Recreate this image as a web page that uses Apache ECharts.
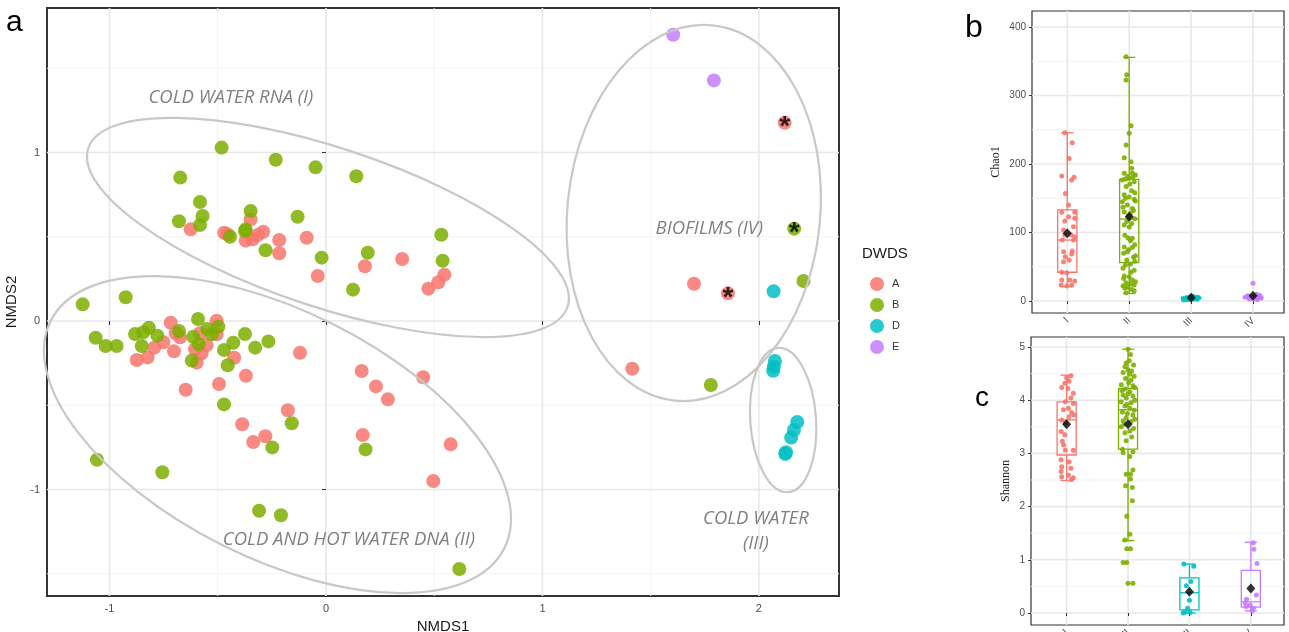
<!DOCTYPE html>
<html><head><meta charset="utf-8">
<script src="https://cdn.jsdelivr.net/npm/echarts@6/dist/echarts.min.js"></script>
<style>html,body{margin:0;padding:0;background:#fff}#c{width:1289px;height:632px}</style>
</head><body><div id="c"></div>
<script>
// ---------- Panel a : NMDS ordination ----------
const dwdsNames = ['A', 'B', 'D', 'E'];
const nmdsA = [[-0.348,0.603],[-0.625,0.544],[-0.470,0.524],[-0.455,0.515],[-0.371,0.477],[-0.339,0.485],[-0.315,0.510],[-0.290,0.530],[-0.216,0.481],[-0.216,0.402],[-0.089,0.494],[0.352,0.368],[0.180,0.325],[-0.038,0.267],[0.473,0.192],[0.547,0.275],[0.519,0.230],
  [2.119,1.177],[1.700,0.221],[1.857,0.164],[1.415,-0.283],
  [-0.717,-0.010],[-0.505,0.002],[-0.694,-0.073],[-0.674,-0.097],[-0.582,-0.073],[-0.505,-0.079],[-0.751,-0.126],[-0.793,-0.158],[-0.702,-0.180],[-0.605,-0.168],[-0.551,-0.142],[-0.574,-0.192],[-0.597,-0.247],[-0.874,-0.231],[-0.824,-0.216],[-0.424,-0.218],[-0.120,-0.188],[-0.370,-0.325],[-0.494,-0.374],[-0.648,-0.408],[0.165,-0.297],[0.231,-0.388],[0.286,-0.465],[0.449,-0.334],[-0.176,-0.530],[-0.387,-0.613],[-0.280,-0.684],[-0.336,-0.718],[0.170,-0.677],[0.576,-0.732],[0.496,-0.950]];
const nmdsB = [[-0.482,1.029],[-0.232,0.957],[-0.048,0.912],[0.140,0.859],[-0.673,0.851],[-0.582,0.706],[-0.570,0.623],[-0.679,0.592],[-0.582,0.570],[-0.348,0.653],[-0.131,0.619],[-0.371,0.544],[-0.374,0.534],[-0.443,0.500],[-0.279,0.420],[-0.020,0.376],[0.193,0.405],[0.125,0.186],[-1.124,0.099],[-0.925,0.141],
  [0.533,0.512],[0.539,0.358],[2.163,0.548],[2.206,0.237],[1.778,-0.380],
  [-1.064,-0.099],[-1.018,-0.148],[-0.967,-0.148],[-0.882,-0.077],[-0.851,-0.148],[-0.844,-0.067],[-0.818,-0.040],[-0.779,-0.087],[-0.679,-0.059],[-0.591,0.012],[-0.613,-0.093],[-0.588,-0.138],[-0.548,-0.047],[-0.528,-0.079],[-0.497,-0.034],[-0.620,-0.235],[-0.471,-0.172],[-0.428,-0.129],[-0.454,-0.263],[-0.374,-0.077],[-0.327,-0.158],[-0.266,-0.121],[-0.471,-0.495],[-0.158,-0.607],[-0.248,-0.750],[0.183,-0.762],[-1.058,-0.823],[-0.756,-0.898],[-0.309,-1.126],[-0.208,-1.153],[0.616,-1.472]];
const nmdsD = [[2.068,0.176],[2.074,-0.237],[2.069,-0.271],[2.066,-0.295],[2.177,-0.599],[2.162,-0.647],[2.149,-0.692],[2.125,-0.779],[2.122,-0.790]];
const nmdsE = [[1.604,1.699],[1.792,1.428]];
const starredPts = [[2.119,1.177],[2.163,0.548],[1.857,0.164]];
const nmdsXTicks = [-1, 0, 1, 2];
const nmdsYTicks = [-1, 0, 1];
const nmdsXMinor = [-0.5, 0.5, 1.5];
const nmdsYMinor = [-1.5, -0.5, 0.5, 1.5];
// ellipses: centre x, centre y, semi-axis 1, semi-axis 2 (in x-axis units), rotation (deg)
const ellipses = [[0.009,0.555,1.166,0.368,-18.3],[-0.224,-0.674,1.172,0.571,-26.6],[1.699,0.641,0.584,0.871,-5.7],[2.112,-0.588,0.152,0.334,3.9]];
const ellipseLabels = ['COLD WATER RNA (I)', 'COLD AND HOT WATER DNA (II)', 'BIOFILMS (IV)', 'COLD WATER\n(III)'];
const ellipseLabelAt = [[-0.439,1.323],[0.106,-1.300],[1.771,0.548],[1.986,-1.246]];

// ---------- Panels b / c : alpha diversity ----------
const groupNames = ['I', 'II', 'III', 'IV'];
// [jitter, value]
const chaoI = [[-0.04,245.7],[0.08,231],[0.03,208],[-0.09,182.5],[0.11,180.6],[0.07,176.6],[-0.03,157],[0.02,140],[-0.09,129.5],[0.12,129.5],[0.02,123],[0.12,120.7],[-0.04,116.8],[0.10,108.5],[-0.06,103.6],[-0.04,96.4],[0.06,96.4],[0.12,93.9],[-0.08,89],[0.10,89],[-0.06,72],[0.08,73],[-0.03,64.7],[0.03,59.9],[-0.06,57.4],[-0.09,41.9],[-0.01,41.3],[-0.09,30.7],[0.04,30.7],[0.12,29.2],[-0.10,23.4],[-0.01,21.9],[0.07,23.4],[0.07,68.6]];
const chaoII = [[-0.05,356.7],[-0.04,330.4],[-0.05,322.6],[0.03,256],[0.0,244.8],[-0.05,227.7],[-0.08,209.2],[0.03,203.4],[0.04,193.7],[-0.08,186.4],[0.05,187],[0.0,179],[-0.11,176.6],[0.08,174],[-0.05,167],[0.04,161],[-0.08,155],[0.0,152],[0.08,148.5],[-0.11,145],[-0.03,140],[0.05,135],[-0.08,130],[0.02,128],[-0.04,116],[0.04,113],[-0.08,111],[0.05,91.5],[0.02,88],[-0.08,79],[0.05,78],[-0.03,72],[-0.09,69.6],[0.07,63.8],[-0.04,59.9],[0.02,54],[-0.06,52.6],[0.08,45],[-0.08,36.5],[0.0,35.5],[0.05,30.7],[-0.05,26.7],[0.08,23.4],[-0.03,20],[0.03,17],[-0.05,12],
  [0.10,184],[-0.02,182],[0.06,181],[-0.06,178],[0.01,171],[0.09,158],[-0.06,150],[0.10,146],[-0.10,137],[0.07,132],[-0.01,125],[0.09,120],[0.0,108],[-0.07,96],[-0.02,92],[0.09,82],[-0.01,75],[0.10,66],[0.09,58],[-0.10,48],[0.03,42],[-0.09,33],[0.10,28],[-0.10,22],[0.02,25],[0.08,15],[-0.07,19]];
const chaoIII = [[-0.06,2],[0.05,3],[-0.10,4],[0.08,5],[0.0,3.5],[-0.03,6],[0.10,2.5],[-0.07,4.5],[0.03,7],[0.11,5.5],[-0.12,1.5]];
const chaoIV = [[0.0,25.8],[0.06,10],[0.11,8],[-0.08,5],[0.03,4],[-0.05,3],[0.10,6],[0.07,2],[-0.10,7],[0.13,4.5],[-0.03,3.5]];
const chaoBoxes = [[21,42,89,133,245.7],[11,56,119.7,177.6,355.7],[1.5,3,4,5.5,7],[2,3.5,5,7,10]];
const chaoMeans = [98.8, 123, 4.8, 7.7];
const chaoTicks = [0, 100, 200, 300, 400];
const chaoMinor = [50, 150, 250, 350];

const shanI = [[0.07,4.46],[0,4.42],[0.04,4.36],[-0.03,4.32],[-0.08,4.24],[0.02,4.22],[0.11,4.13],[0.07,4.04],[-0.02,3.97],[0.11,3.94],[0.03,3.85],[-0.05,3.82],[0.08,3.77],[0.12,3.72],[0.04,3.69],[-0.08,3.63],[-0.02,3.58],[-0.09,3.41],[-0.03,3.35],[-0.07,3.23],[-0.05,3.16],[-0.02,3.06],[0.11,3.06],[-0.09,2.88],[0.04,2.84],[-0.08,2.75],[0.07,2.72],[-0.09,2.66],[0.03,2.59],[-0.08,2.56],[0.11,2.54],[0.08,2.51]];
const shanII = [[0,4.96],[0.04,4.86],[-0.03,4.70],[-0.05,4.63],[0,4.57],[-0.08,4.52],[0.03,4.49],[-0.04,4.41],[0.05,4.38],[-0.11,4.29],[0.08,4.27],[-0.05,4.21],[0.03,4.16],[-0.08,4.10],[0.08,4.08],[-0.03,4.04],[-0.11,3.97],[0.05,3.95],[-0.05,3.89],[0.03,3.85],[-0.09,3.78],[0.08,3.72],[-0.03,3.67],[-0.08,3.61],[0.05,3.60],[-0.11,3.50],[0.03,3.42],[-0.05,3.39],[-0.03,3.24],[-0.09,3.08],[0.08,3.03],[-0.08,3.01],[0.03,2.94],[-0.03,2.61],[0.04,2.61],[0.08,2.69],[0.04,2.52],[-0.04,2.39],[0.07,2.36],[0.07,2.11],[-0.02,1.82],[0.03,1.48],[-0.05,1.37],[-0.02,1.21],[0.04,1.21],[-0.08,0.95],[-0.02,0.95],[0,0.56],[0.08,0.56],
  [0.10,4.45],[0.01,4.33],[-0.10,4.18],[0.11,4.0],[-0.02,3.92],[0.10,3.81],[-0.01,3.75],[0.11,3.64],[-0.06,3.55],[0.09,3.47],[0.06,3.31],[0.0,4.12],[0.11,4.24],[0.06,4.55],[0.09,4.66],[0.02,4.74]];
const shanIII = [[-0.09,0.92],[0.07,0.88],[0.02,0.59],[-0.05,0.51],[0,0.24],[-0.03,0.09],[-0.07,0.02],[0.01,0.01],[-0.10,0.0]];
const shanIV = [[0.04,1.32],[0.05,1.20],[0.10,0.93],[0.09,0.34],[-0.07,0.26],[-0.09,0.19],[-0.01,0.15],[-0.08,0.12],[0.04,0.09],[0.02,0.04]];
const shanBoxes = [[2.49,2.97,3.63,3.97,4.47],[1.36,3.08,3.82,4.22,4.96],[0,0.06,0.38,0.66,0.92],[0.04,0.11,0.21,0.80,1.33]];
const shanMeans = [3.55, 3.55, 0.40, 0.46];
const shanTicks = [0, 1, 2, 3, 4, 5];
const shanMinor = [0.5, 1.5, 2.5, 3.5, 4.5];
const catTicks = [1, 2, 3, 4];

// ---------- styles ----------
const palette = ['#F8766D', '#7CAE00', '#00BFC4', '#C77CFF'];
const SANS = '"Liberation Sans", Arial, sans-serif';
const SERIF = '"Liberation Serif", "DejaVu Serif", serif';

function gridData(vMajor, vMinor, hMajor, hMinor) {
  const d = [];
  vMinor.forEach(v => d.push([v, 0, 1]));
  hMinor.forEach(v => d.push([v, 1, 1]));
  vMajor.forEach(v => d.push([v, 0, 0]));
  hMajor.forEach(v => d.push([v, 1, 0]));
  return d;
}
function renderGrid(params, api) {
  const cs = params.coordSys;
  const v = api.value(0), o = api.value(1), m = api.value(2);
  const style = { stroke: m ? '#f3f3f3' : '#e8e8e8', lineWidth: m ? 1 : 1.6, fill: null };
  if (o === 0) {
    const p = api.coord([v, 0])[0];
    return { type: 'line', shape: { x1: p, y1: cs.y, x2: p, y2: cs.y + cs.height }, style };
  }
  const p = api.coord([0, v])[1];
  return { type: 'line', shape: { x1: cs.x, y1: p, x2: cs.x + cs.width, y2: p }, style };
}
function renderBox(params, api) {
  const x = api.value(0);
  const lo = api.coord([x, api.value(1)]), q1 = api.coord([x, api.value(2)]), md = api.coord([x, api.value(3)]),
        q3 = api.coord([x, api.value(4)]), hi = api.coord([x, api.value(5)]);
  const unit = api.size([1, 0])[0];
  const hw = unit * 0.155, cw = unit * 0.1;
  const st = { stroke: palette[params.dataIndex], fill: null, lineWidth: 1.3 };
  const cx = md[0];
  return { type: 'group', children: [
    { type: 'line', shape: { x1: cx, y1: q1[1], x2: cx, y2: lo[1] }, style: st },
    { type: 'line', shape: { x1: cx, y1: q3[1], x2: cx, y2: hi[1] }, style: st },
    { type: 'line', shape: { x1: cx - cw, y1: lo[1], x2: cx + cw, y2: lo[1] }, style: st },
    { type: 'line', shape: { x1: cx - cw, y1: hi[1], x2: cx + cw, y2: hi[1] }, style: st },
    { type: 'rect', shape: { x: cx - hw, y: q3[1], width: 2 * hw, height: q1[1] - q3[1] }, style: st },
    { type: 'line', shape: { x1: cx - hw, y1: md[1], x2: cx + hw, y2: md[1] }, style: st }
  ]};
}
function renderEllipse(params, api) {
  const c = api.coord([api.value(0), api.value(1)]);
  const s = api.size([1, 0])[0];
  return { type: 'ellipse', x: c[0], y: c[1], rotation: api.value(4) * Math.PI / 180,
    shape: { cx: 0, cy: 0, rx: api.value(2) * s, ry: api.value(3) * s },
    style: { stroke: '#c8c8c8', lineWidth: 2.2, fill: null } };
}
function renderEllipseLabel(params, api) {
  const c = api.coord([api.value(0), api.value(1)]);
  return { type: 'text', x: c[0], y: c[1], style: { text: ellipseLabels[params.dataIndex], fill: '#808080',
    font: 'italic 18.5px "Open Sans", sans-serif', align: 'center', verticalAlign: 'middle', lineHeight: 25 } };
}

const jit = (arr, g) => arr.map(p => [g + p[0], p[1]]);

const series = [];
// panel a
series.push({ type: 'custom', name: 'gridA', xAxisIndex: 0, yAxisIndex: 0, z: 0, silent: true,
  renderItem: renderGrid, data: gridData(nmdsXTicks, nmdsXMinor, nmdsYTicks, nmdsYMinor) });
[nmdsA, nmdsB, nmdsD, nmdsE].forEach((d, i) => series.push({
  type: 'scatter', name: dwdsNames[i], xAxisIndex: 0, yAxisIndex: 0, z: 3, symbol: 'circle', symbolSize: 14,
  itemStyle: { color: palette[i], opacity: 0.85 }, data: d }));
series.push({ type: 'custom', name: 'ell', xAxisIndex: 0, yAxisIndex: 0, z: 4, silent: true, renderItem: renderEllipse, data: ellipses });
series.push({ type: 'custom', name: 'ellLab', xAxisIndex: 0, yAxisIndex: 0, z: 5, silent: true, renderItem: renderEllipseLabel, data: ellipseLabelAt });
series.push({ type: 'scatter', name: 'stars', xAxisIndex: 0, yAxisIndex: 0, z: 6, symbolSize: 1, silent: true,
  itemStyle: { color: 'rgba(0,0,0,0)' },
  label: { show: true, position: 'inside', formatter: '*', fontSize: 28, fontWeight: 'bold', color: '#000', fontFamily: SANS, offset: [0, 5] },
  data: starredPts });
// panel b
series.push({ type: 'custom', name: 'gridB', xAxisIndex: 1, yAxisIndex: 1, z: 0, silent: true,
  renderItem: renderGrid, data: gridData(catTicks, [], chaoTicks, chaoMinor) });
series.push({ type: 'custom', name: 'boxB', xAxisIndex: 1, yAxisIndex: 1, z: 2, silent: true, renderItem: renderBox,
  data: chaoBoxes.map((b, i) => [i + 1].concat(b)) });
[chaoI, chaoII, chaoIII, chaoIV].forEach((d, i) => series.push({
  type: 'scatter', name: 'chao-' + groupNames[i], xAxisIndex: 1, yAxisIndex: 1, z: 3, symbolSize: 5,
  itemStyle: { color: palette[i], opacity: 0.9 }, data: jit(d, i + 1) }));
series.push({ type: 'scatter', name: 'chaoMean', xAxisIndex: 1, yAxisIndex: 1, z: 4, symbol: 'diamond', symbolSize: [9, 10],
  itemStyle: { color: '#000' }, data: chaoMeans.map((m, i) => [i + 1, m]) });
// panel c
series.push({ type: 'custom', name: 'gridC', xAxisIndex: 2, yAxisIndex: 2, z: 0, silent: true,
  renderItem: renderGrid, data: gridData(catTicks, [], shanTicks, shanMinor) });
series.push({ type: 'custom', name: 'boxC', xAxisIndex: 2, yAxisIndex: 2, z: 2, silent: true, renderItem: renderBox,
  data: shanBoxes.map((b, i) => [i + 1].concat(b)) });
[shanI, shanII, shanIII, shanIV].forEach((d, i) => series.push({
  type: 'scatter', name: 'shan-' + groupNames[i], xAxisIndex: 2, yAxisIndex: 2, z: 3, symbolSize: 5,
  itemStyle: { color: palette[i], opacity: 0.9 }, data: jit(d, i + 1) }));
series.push({ type: 'scatter', name: 'shanMean', xAxisIndex: 2, yAxisIndex: 2, z: 4, symbol: 'diamond', symbolSize: [9, 10],
  itemStyle: { color: '#000' }, data: shanMeans.map((m, i) => [i + 1, m]) });

function valAxis(gi, min, max, ticks, extra) {
  return Object.assign({
    gridIndex: gi, type: 'value', min, max, axisLine: { show: false }, splitLine: { show: false },
    axisTick: { show: true, customValues: ticks, length: 4, lineStyle: { color: '#333', width: 1 } },
    axisLabel: { customValues: ticks, color: '#4d4d4d', fontSize: 11, fontFamily: SANS, margin: 7 }
  }, extra || {});
}

const option = {
  animation: false,
  backgroundColor: '#fff',
  grid: [
    { left: 47, top: 8, width: 792, height: 588, show: true, borderColor: '#333', borderWidth: 2, outerBoundsMode: 'none', containLabel: false },
    { left: 1032, top: 11, width: 252, height: 302, show: true, borderColor: '#333', borderWidth: 1.2, outerBoundsMode: 'none', containLabel: false },
    { left: 1031, top: 337, width: 253, height: 288, show: true, borderColor: '#333', borderWidth: 1.2, outerBoundsMode: 'none', containLabel: false }
  ],
  xAxis: [
    valAxis(0, -1.2887, 2.370, nmdsXTicks, { name: 'NMDS1', nameLocation: 'middle', nameGap: 18,
      nameTextStyle: { fontSize: 15, color: '#1a1a1a', fontFamily: SANS } }),
    valAxis(1, 0.43, 4.50, catTicks, { axisLabel: { customValues: catTicks, rotate: 45, fontSize: 10, color: '#4d4d4d', fontFamily: SANS, margin: 6,
      formatter: v => groupNames[Math.round(v) - 1] }, axisTick: { show: true, customValues: catTicks, length: 3, lineStyle: { color: '#333' } } }),
    valAxis(2, 0.42, 4.54, catTicks, { axisLabel: { customValues: catTicks, rotate: 45, fontSize: 10, color: '#4d4d4d', fontFamily: SANS, margin: 6,
      formatter: v => groupNames[Math.round(v) - 1] }, axisTick: { show: true, customValues: catTicks, length: 3, lineStyle: { color: '#333' } } })
  ],
  yAxis: [
    valAxis(0, -1.632, 1.8576, nmdsYTicks, { name: 'NMDS2', nameLocation: 'middle', nameGap: 20,
      nameTextStyle: { fontSize: 15, color: '#1a1a1a', fontFamily: SANS } }),
    valAxis(1, -17.5, 423.4, chaoTicks, { name: 'Chao1', nameLocation: 'middle', nameGap: 30,
      axisLabel: { customValues: chaoTicks, color: '#4d4d4d', fontSize: 10, fontFamily: SANS, margin: 6 },
      axisTick: { show: true, customValues: chaoTicks, length: 3, lineStyle: { color: '#333' } },
      nameTextStyle: { fontSize: 12, color: '#1a1a1a', fontFamily: SERIF } }),
    valAxis(2, -0.2256, 5.188, shanTicks, { name: 'Shannon', nameLocation: 'middle', nameGap: 19,
      axisLabel: { customValues: shanTicks, color: '#4d4d4d', fontSize: 10, fontFamily: SANS, margin: 6 },
      axisTick: { show: true, customValues: shanTicks, length: 3, lineStyle: { color: '#333' } },
      nameTextStyle: { fontSize: 12, color: '#1a1a1a', fontFamily: SERIF } })
  ],
  legend: {
    data: dwdsNames, orient: 'vertical', left: 865, top: 272, itemWidth: 14, itemHeight: 14, itemGap: 7,
    icon: 'circle', textStyle: { fontSize: 11, color: '#333', fontFamily: SANS, padding: [0, 0, 0, 3] }, selectedMode: false
  },
  graphic: [
    { type: 'text', x: 862, y: 254, style: { text: 'DWDS', font: '15px ' + SANS, fill: '#1a1a1a', verticalAlign: 'middle' } },
    { type: 'text', x: 6, y: 38, style: { text: 'a', font: '30px ' + SANS, fill: '#000', verticalAlign: 'bottom' } },
    { type: 'text', x: 965, y: 44, style: { text: 'b', font: '32px ' + SANS, fill: '#000', verticalAlign: 'bottom' } },
    { type: 'text', x: 975, y: 412, style: { text: 'c', font: '28px ' + SANS, fill: '#000', verticalAlign: 'bottom' } }
  ],
  series
};
const chart = echarts.init(document.getElementById('c'), null, { renderer: 'canvas' });
chart.setOption(option);
</script></body></html>
